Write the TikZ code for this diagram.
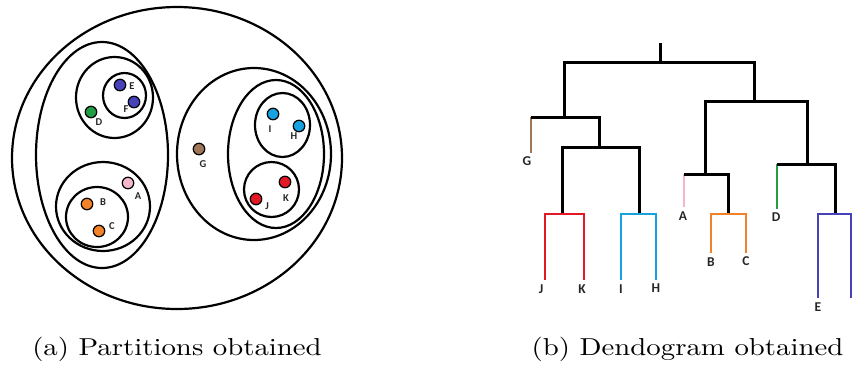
\documentclass[tikz,border=0pt]{standalone}
\usepackage{graphicx}
\usepackage{fontspec}
\newfontfamily\lblfont{Carlito}
\begin{document}
\begin{tikzpicture}[x=1pt,y=-1pt,
  ring/.style={draw=black,line width=2.2pt},
  dot/.style={circle,draw=black,line width=1.2pt,minimum size=11.5pt,inner sep=0pt},
  plab/.style={font=\lblfont\bfseries\fontsize{10.5}{10.5}\selectfont,text=black!85,inner sep=0pt},
  dlab/.style={font=\lblfont\bfseries\fontsize{13.5}{13.5}\selectfont,text=black!85,inner sep=0pt},
  link/.style={draw=black,line width=3pt},
  leaf/.style={line width=2.6pt},
  caption/.style={inner sep=0pt,anchor=base}]
\definecolor{cPurple}{RGB}{72,66,186}
\definecolor{cGreen}{RGB}{34,156,70}
\definecolor{cPink}{RGB}{244,182,204}
\definecolor{cOrange}{RGB}{242,130,42}
\definecolor{cBrown}{RGB}{160,118,88}
\definecolor{cSky}{RGB}{22,162,224}
\definecolor{cRed}{RGB}{226,24,36}
\useasboundingbox (0,0) rectangle (852,368);
\clip (0,0) rectangle (852,368);

% ---------- partitions ----------
\draw[ring] (177,158) ellipse [x radius=165pt, y radius=151pt];
% left group
\draw[ring] (102,155) ellipse [x radius=66pt, y radius=113pt];
\draw[ring] (114.5,97.5) ellipse [x radius=38.5pt, y radius=40.5pt];
\draw[ring] (124.5,95.5) ellipse [x radius=21.5pt, y radius=22.5pt];
\draw[ring] (103,206.5) ellipse [x radius=47pt, y radius=44.5pt];
\draw[ring] (97,217) ellipse [x radius=31pt, y radius=30pt];
% right group
\draw[ring] (254,154) ellipse [x radius=77pt, y radius=86pt];
\draw[ring] (276,154) ellipse [x radius=48pt, y radius=74pt];
\draw[ring] (282.5,125) ellipse [x radius=27.5pt, y radius=32pt];
\draw[ring] (271.5,189.5) ellipse [x radius=27.5pt, y radius=27.5pt];

\node[dot,fill=cPurple] (pE) at (120,85) {};
\node[dot,fill=cPurple] (pF) at (134,102) {};
\node[dot,fill=cGreen]  (pD) at (91,112) {};
\node[dot,fill=cPink]   (pA) at (128,183) {};
\node[dot,fill=cOrange] (pB) at (87,204) {};
\node[dot,fill=cOrange] (pC) at (99,231) {};
\node[dot,fill=cBrown]  (pG) at (199,149) {};
\node[dot,fill=cSky]    (pI) at (273,114) {};
\node[dot,fill=cSky]    (pH) at (299,126) {};
\node[dot,fill=cRed]    (pK) at (285,182) {};
\node[dot,fill=cRed]    (pJ) at (256,199) {};

\node[plab] (tE) at (132,86) {E};
\node[plab] (tF) at (126,109) {F};
\node[plab] (tD) at (99,122) {D};
\node[plab] (tA) at (138,196) {A};
\node[plab] (tB) at (103,202) {B};
\node[plab] (tC) at (112,226) {C};
\node[plab] (tG) at (203,164) {G};
\node[plab] (tI) at (270,129) {I};
\node[plab] (tH) at (294,136) {H};
\node[plab] (tK) at (286,198) {K};
\node[plab] (tJ) at (267,206) {J};

% ---------- dendrogram ----------
\coordinate (top) at (660,43);
\coordinate (root) at (660,62);
\coordinate (n1) at (564,117);
\coordinate (n2) at (754,101);
\coordinate (g) at (531,117);
\coordinate (n3) at (599,147);
\coordinate (n4) at (562,214);
\coordinate (n5) at (639,214);
\coordinate (n6) at (705,174);
\coordinate (n7) at (807,164);
\coordinate (a) at (684,174);
\coordinate (n8) at (728,214);
\coordinate (d) at (777,164);
\coordinate (n9) at (835,214);
\coordinate (lG) at (531,153);
\coordinate (lJ) at (545,280);
\coordinate (lK) at (584,280);
\coordinate (lI) at (621,280);
\coordinate (lH) at (656,280);
\coordinate (lA) at (684,207);
\coordinate (lB) at (711,253);
\coordinate (lC) at (746,253);
\coordinate (lD) at (777,209);
\coordinate (lE) at (818,298);
\coordinate (lF) at (851,298);

\draw[link] (top) -- (root);
\draw[link] (n1) |- (root) -| (n2);
\draw[leaf,cBrown] (g) -- (lG);
\draw[link] (g) -| (n3);
\draw[link] (n4) |- (n3) -| (n5);
\draw[leaf,cRed] (lJ) |- (n4) -| (lK);
\draw[leaf,cSky] (lI) |- (n5) -| (lH);
\draw[link] (n6) |- (n2) -| (n7);
\draw[leaf,cPink] (a) -- (lA);
\draw[link] (a) -| (n8);
\draw[leaf,cOrange] (lB) |- (n8) -| (lC);
\draw[leaf,cGreen] (d) -- (lD);
\draw[link] (d) -| (n9);
\draw[leaf,cPurple] (lE) |- (n9) -| (lF);

\node[dlab] (dG) at (527,161) {G};
\node[dlab] (dJ) at (541,289) {J};
\node[dlab] (dK) at (582,289) {K};
\node[dlab] (dI) at (621,289) {I};
\node[dlab] (dH) at (656,288) {H};
\node[dlab] (dA) at (683,216) {A};
\node[dlab] (dB) at (711,262) {B};
\node[dlab] (dC) at (746,261) {C};
\node[dlab] (dD) at (776,217) {D};
\node[dlab] (dE) at (818,307) {E};
\node[dlab] (dF) at (855,307) {F};

% ---------- captions ----------
\node[caption] (capA) at (177,355) {\scalebox{2.88}[2.45]{\fontsize{10}{12}\selectfont (a) Partitions obtained}};
\node[caption] (capB) at (687.5,355) {\scalebox{2.88}[2.45]{\fontsize{10}{12}\selectfont (b) Dendogram obtained}};
\end{tikzpicture}
\end{document}
